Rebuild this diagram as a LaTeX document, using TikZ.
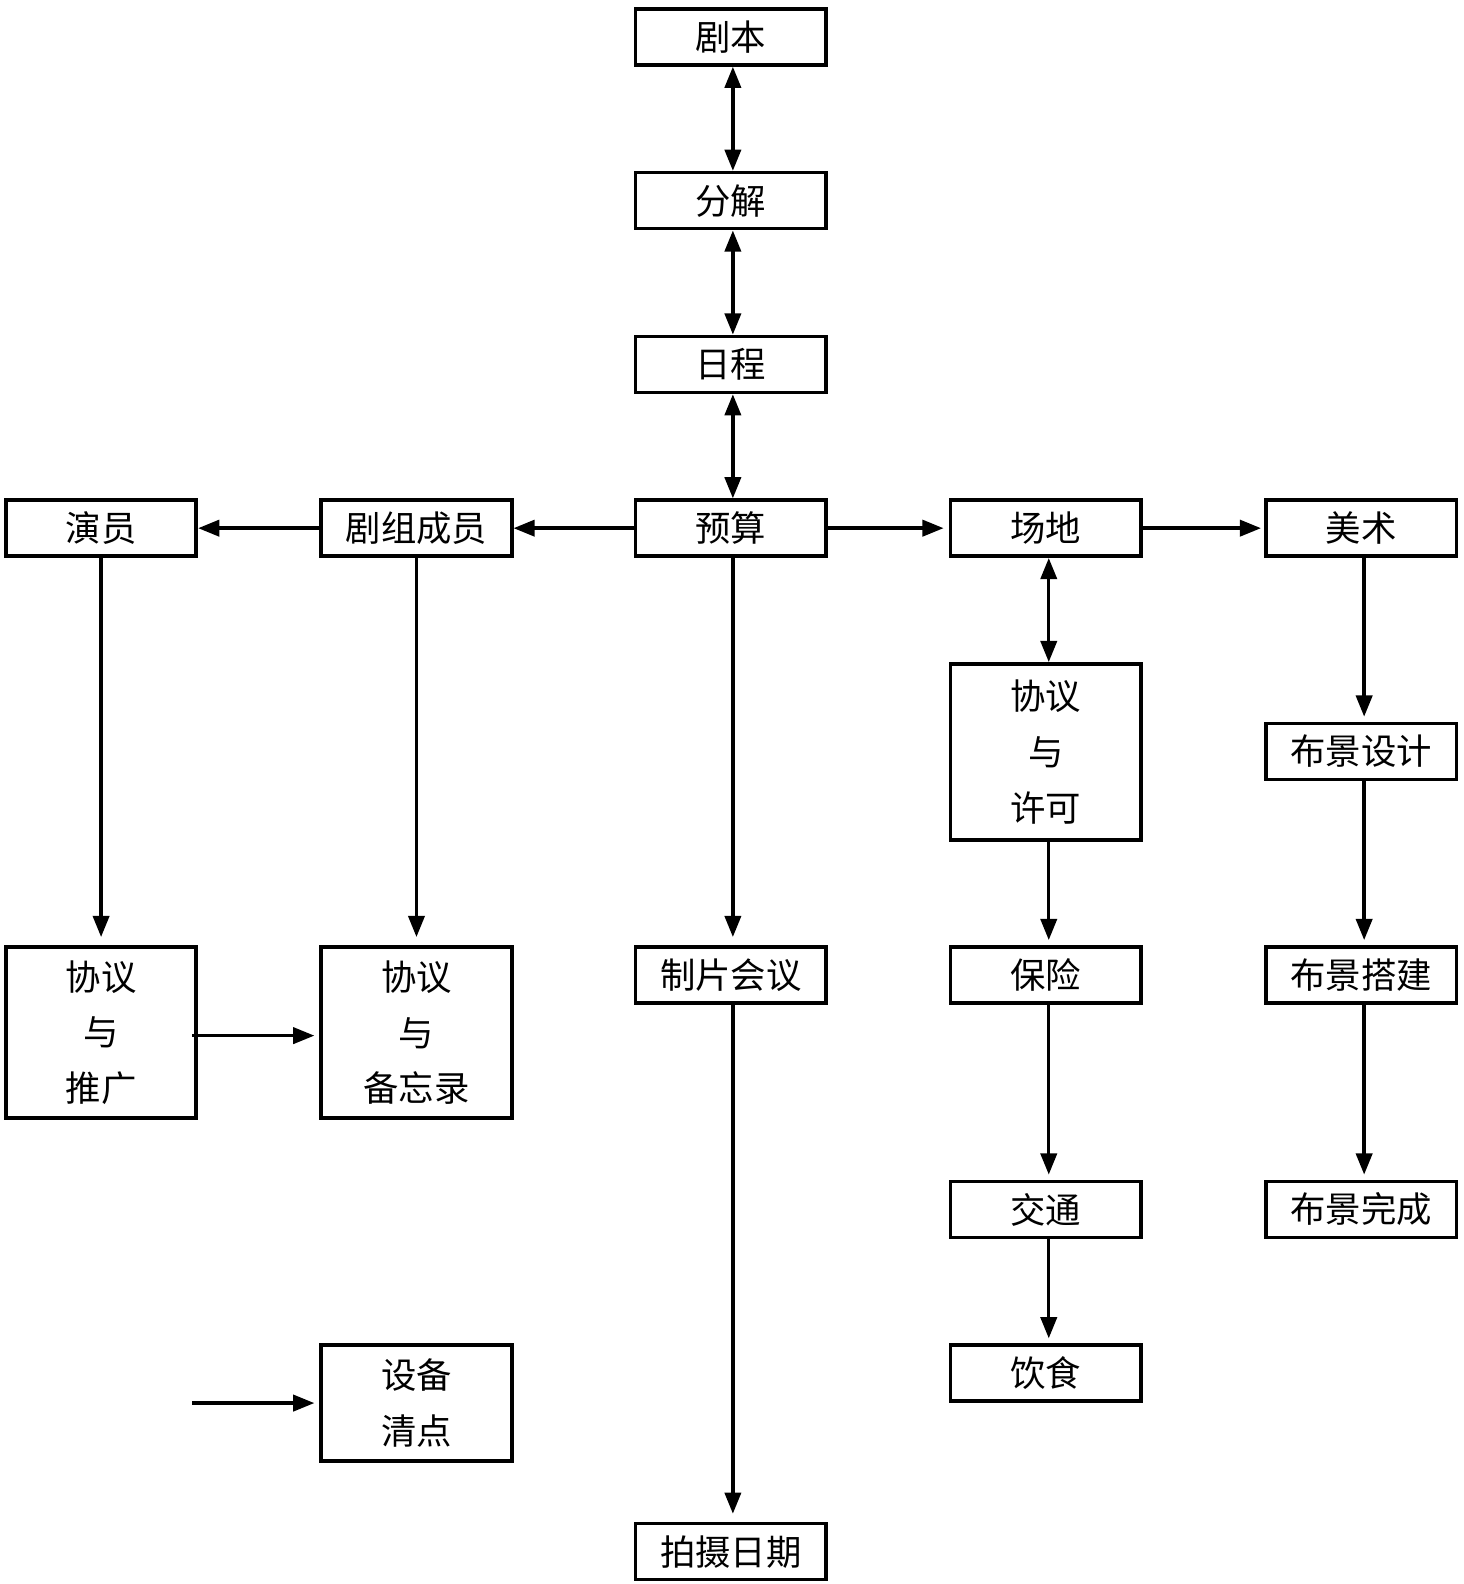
\documentclass[tikz,border=0pt]{standalone}
\usepackage{fontspec}
\setmainfont{Noto Sans CJK SC}
\usetikzlibrary{arrows.meta}
\begin{document}
\begin{tikzpicture}[x=0.5pt,y=-0.5pt,
  box/.style={draw,line width=1.8pt,minimum width=94.2pt,minimum height=27.7pt,inner sep=0pt,align=center,
    font=\fontsize{17.5pt}{27.5pt}\selectfont},
  conn/.style={line width=1.7pt,-{Triangle[length=10.5pt,width=8pt]}},
  biconn/.style={line width=1.7pt,{Triangle[length=10.5pt,width=8pt]}-{Triangle[length=10.5pt,width=8pt]}},
  gap/.style={shorten >=4pt},
  sgap/.style={shorten >=2.5pt}]
\useasboundingbox (0,0) rectangle (1448,1567);
% column 3
\node[box] (script) at (723,36.5) {剧本};
\node[box] (breakdown) at (723,198.5) {分解};
\node[box] (schedule) at (723,360.5) {日程};
\node[box] (budget) at (723,522.5) {预算};
\node[box] (meeting) at (723,964.5) {制片会议};
\node[box] (shoot) at (723,1535) {拍摄日期};
% column 1
\node[box] (cast) at (100,522.5) {演员};
\node[box,minimum height=84.7pt] (castdeal) at (100,1021.5) {协议\\与\\推广};
% column 2
\node[box] (crew) at (412,522.5) {剧组成员};
\node[box,minimum height=84.7pt] (crewdeal) at (412,1021.5) {协议\\与\\备忘录};
\node[box,minimum height=57.2pt] (equip) at (412,1388) {设备\\清点};
% column 4
\node[box] (location) at (1034.5,522.5) {场地};
\node[box,minimum height=87.2pt] (permit) at (1034.5,744) {协议\\与\\许可};
\node[box] (insurance) at (1034.5,964.5) {保险};
\node[box] (transport) at (1034.5,1196.5) {交通};
\node[box] (catering) at (1034.5,1358.5) {饮食};
% column 5
\node[box] (art) at (1346.5,522.5) {美术};
\node[box] (setdesign) at (1346.5,743.5) {布景设计};
\node[box] (setbuild) at (1346.5,964.5) {布景搭建};
\node[box] (setdone) at (1346.5,1196.5) {布景完成};
\coordinate (free) at (190,1388);
% connectors
\draw[biconn] ([xshift=1pt]script.south) -- ([xshift=1pt]breakdown.north);
\draw[biconn] ([xshift=1pt]breakdown.south) -- ([xshift=1pt]schedule.north);
\draw[biconn] ([xshift=1pt]schedule.south) -- ([xshift=1pt]budget.north);
\draw[conn] (budget.west) -- (crew.east);
\draw[conn] (crew.west) -- (cast.east);
\draw[conn,sgap] (budget.east) -- (location.west);
\draw[conn,shorten >=1.5pt] (location.east) -- (art.west);
\draw[biconn] ([xshift=1.5pt]location.south) -- ([xshift=1.5pt]permit.north);
\draw[conn,gap] (cast.south) -- (castdeal.north);
\draw[conn,gap] (crew.south) -- (crewdeal.north);
\draw[conn,gap] ([xshift=1pt]budget.south) -- ([xshift=1pt]meeting.north);
\draw[conn,gap] ([xshift=1pt]meeting.south) -- ([xshift=1pt]shoot.north);
\draw[conn,sgap] ([xshift=1.5pt]permit.south) -- ([xshift=1.5pt]insurance.north);
\draw[conn,sgap] ([xshift=1.5pt]insurance.south) -- ([xshift=1.5pt]transport.north);
\draw[conn,sgap] ([xshift=1.5pt]transport.south) -- ([xshift=1.5pt]catering.north);
\draw[conn,sgap] ([xshift=1.5pt]art.south) -- ([xshift=1.5pt]setdesign.north);
\draw[conn,sgap] ([xshift=1.5pt]setdesign.south) -- ([xshift=1.5pt]setbuild.north);
\draw[conn,sgap] ([xshift=1.5pt]setbuild.south) -- ([xshift=1.5pt]setdone.north);
\draw[conn,sgap] ([xshift=-3pt,yshift=-1.5pt]castdeal.east) -- ([yshift=-1.5pt]crewdeal.west);
\draw[conn,sgap] (free) -- (equip.west);
\end{tikzpicture}
\end{document}
